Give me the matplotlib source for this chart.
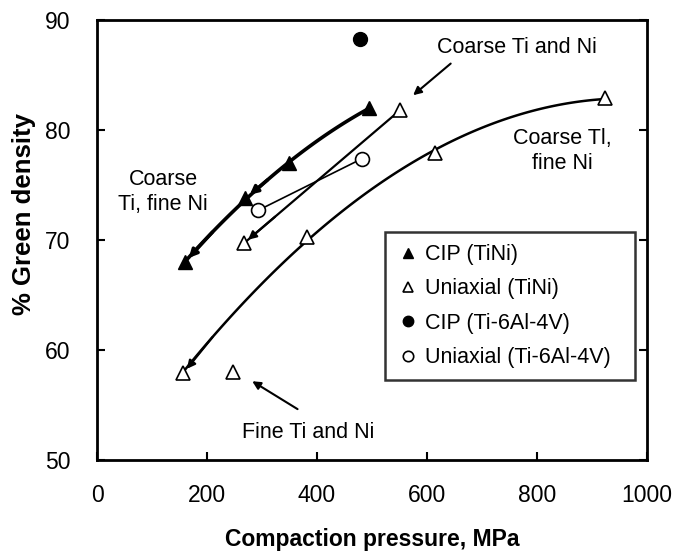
import numpy as np
import matplotlib
matplotlib.use("Agg")
import matplotlib.pyplot as plt

plt.rcParams['font.family'] = ['Liberation Sans', 'DejaVu Sans']

# CIP TiNi (filled triangles)
cip_tini_x = [160, 270, 350, 495]
cip_tini_y = [68.0, 73.8, 77.0, 82.0]
# Uniaxial TiNi, coarse Ti fine Ni (open triangles, lower curve)
uni_cf_x = [157, 382, 615, 924]
uni_cf_y = [57.9, 70.3, 77.9, 82.9]
# Uniaxial TiNi, coarse Ti and Ni
uni_cc_x = [267, 551]
uni_cc_y = [69.7, 81.8]
# Uniaxial TiNi, fine Ti and Ni
uni_ff_x = [247]
uni_ff_y = [58.0]
# CIP Ti-6Al-4V
cip_ti64_x = [478]
cip_ti64_y = [88.3]
# Uniaxial Ti-6Al-4V
uni_ti64_x = [293, 482]
uni_ti64_y = [72.7, 77.4]

fig = plt.figure(figsize=(6.76, 5.55), dpi=100)
ax = fig.add_axes([0.1435, 0.171, 0.8135, 0.793])

# trend curves
c1 = np.polyfit(cip_tini_x, cip_tini_y, 2)
xs1 = np.linspace(cip_tini_x[-1], cip_tini_x[0], 100)
ax.plot(xs1, np.polyval(c1, xs1), color='black', lw=2.6, zorder=2)
c2 = np.polyfit(uni_cf_x, uni_cf_y, 2)
xs2 = np.linspace(uni_cf_x[-1], uni_cf_x[0], 100)
ax.plot(xs2, np.polyval(c2, xs2), color='black', lw=1.8, zorder=2)
ax.plot(uni_cc_x, uni_cc_y, color='black', lw=1.6, zorder=2)
ax.plot(uni_ti64_x, uni_ti64_y, color='black', lw=1.2, zorder=2)

# arrowheads at curve ends
def head(x0, y0, x1, y1, lw=1.5):
    ax.annotate('', xy=(x1, y1), xytext=(x0, y0),
                arrowprops=dict(arrowstyle='-|>', color='black', lw=lw,
                                mutation_scale=12, shrinkA=0, shrinkB=4))

head(210, np.polyval(c1, 210), cip_tini_x[0], cip_tini_y[0], 2.4)
head(310, np.polyval(c1, 310), cip_tini_x[1], cip_tini_y[1], 2.4)
t = 0.2
head(uni_cc_x[0] + t * (uni_cc_x[1] - uni_cc_x[0]),
     uni_cc_y[0] + t * (uni_cc_y[1] - uni_cc_y[0]),
     uni_cc_x[0], uni_cc_y[0], 1.6)
head(210, np.polyval(c2, 210), uni_cf_x[0], uni_cf_y[0], 1.6)

ms = 10
ax.plot(cip_tini_x, cip_tini_y, '^', color='black', ms=ms, ls='none',
        label='CIP (TiNi)', zorder=3)
ax.plot(uni_cf_x + uni_cc_x + uni_ff_x, uni_cf_y + uni_cc_y + uni_ff_y, '^',
        mfc='white', mec='black', mew=1.2, ms=ms, ls='none',
        label='Uniaxial (TiNi)', zorder=3)
ax.plot(cip_ti64_x, cip_ti64_y, 'o', color='black', ms=ms, ls='none',
        label='CIP (Ti-6Al-4V)', zorder=3)
ax.plot(uni_ti64_x, uni_ti64_y, 'o', mfc='white', mec='black', mew=1.2,
        ms=ms, ls='none', label='Uniaxial (Ti-6Al-4V)', zorder=3)

fs = 15.5
ax.text(764, 87.5, 'Coarse Ti and Ni', ha='center', va='center', fontsize=fs)
ax.annotate('', xy=(571, 83.0), xytext=(647, 86.2),
            arrowprops=dict(arrowstyle='-|>', color='black', lw=1.5, mutation_scale=12))
ax.text(847, 78.1, 'Coarse Tl,\nfine Ni', ha='center', va='center', fontsize=fs,
        linespacing=1.25)
ax.text(120, 74.4, 'Coarse\nTi, fine Ni', ha='center', va='center', fontsize=fs,
        linespacing=1.25)
ax.text(384, 52.5, 'Fine Ti and Ni', ha='center', va='center', fontsize=fs)
ax.annotate('', xy=(278, 57.3), xytext=(369, 54.5),
            arrowprops=dict(arrowstyle='-|>', color='black', lw=1.5, mutation_scale=12))

leg = ax.legend(loc='lower left', bbox_to_anchor=(0.524, 0.182, 0.455, 0.345),
                mode='expand', fontsize=15.5, frameon=True, fancybox=False,
                edgecolor='black', handlelength=1.0, handletextpad=0.3,
                borderpad=0.55, labelspacing=0.62, markerscale=0.75,
                borderaxespad=0)
leg.get_frame().set_linewidth(1.8)

ax.set_xlim(0, 1000)
ax.set_ylim(50, 90)
ax.set_xticks([0, 200, 400, 600, 800, 1000])
ax.set_yticks([50, 60, 70, 80, 90])
ax.tick_params(direction='in', length=6, width=1.5, labelsize=16.5,
               right=True, top=False)
ax.tick_params(axis='x', pad=17)
ax.tick_params(axis='y', pad=19)
for s in ax.spines.values():
    s.set_linewidth(2)
ax.set_xlabel('Compaction pressure, MPa', fontsize=16.5, fontweight='bold')
ax.set_ylabel('% Green density', fontsize=18.5, fontweight='bold')
ax.xaxis.set_label_coords(0.5, -0.18)
ax.yaxis.set_label_coords(-0.133, 0.559)
ax.xaxis.label.set_va('center')
ax.yaxis.label.set_va('center')

fig.savefig('out.png', dpi=100)
